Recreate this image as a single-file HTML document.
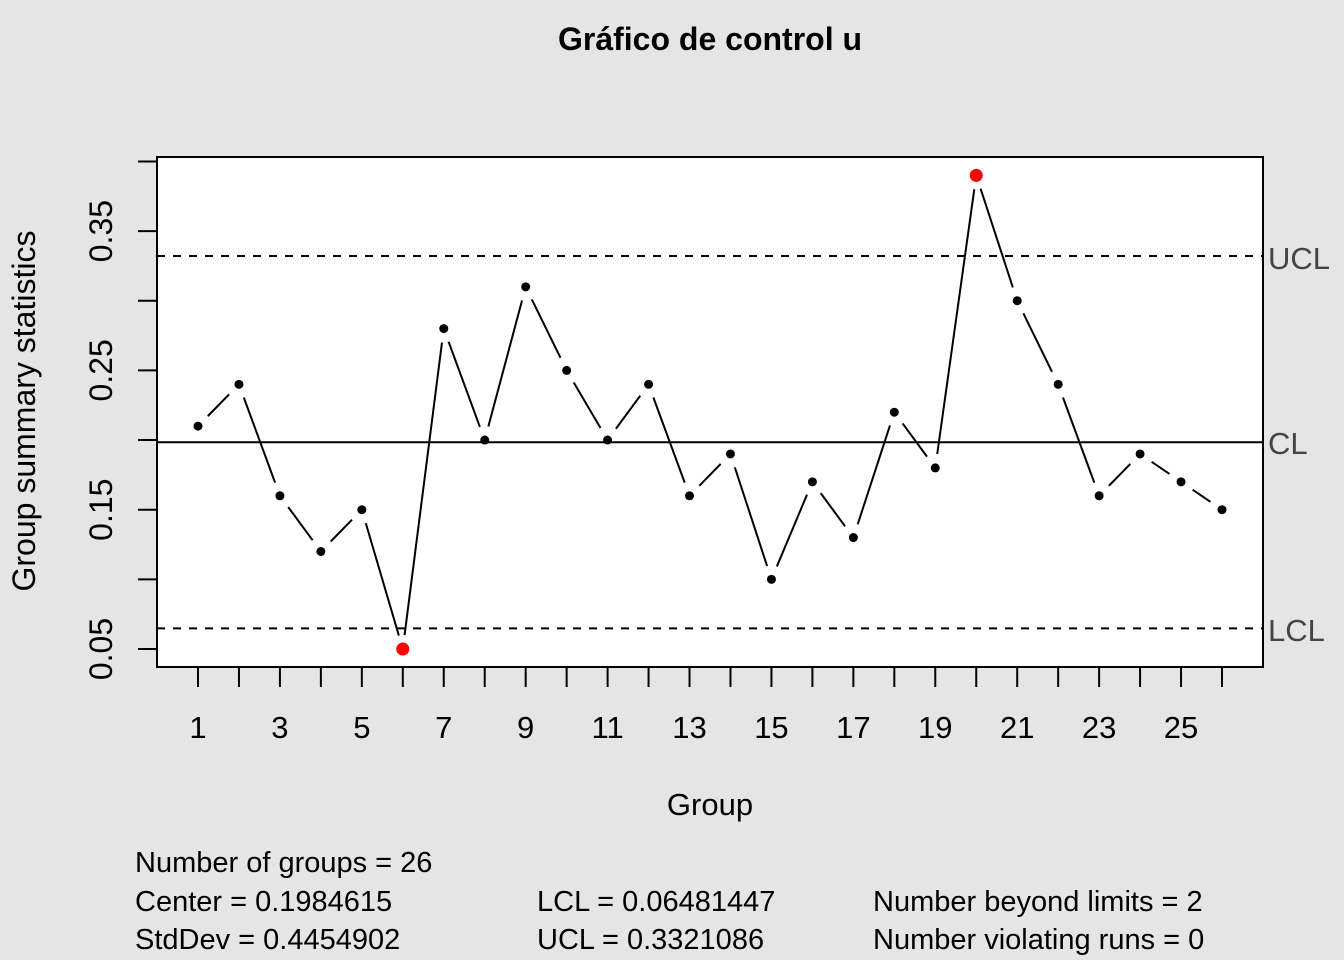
<!DOCTYPE html>
<html><head><meta charset="utf-8"><style>
html,body{margin:0;padding:0;background:#e5e5e5;}
svg{display:block;font-family:"Liberation Sans",Arial,sans-serif;}
</style></head><body>
<svg id="s" width="1344" height="960" viewBox="0 0 1344 960">
<rect width="1344" height="960" fill="#e5e5e5"/>
<rect x="157" y="157" width="1106" height="510" fill="#fff" stroke="#000" stroke-width="2"/>
<text x="710" y="50" text-anchor="middle" font-size="32" font-weight="bold">Gráfico de control u</text>
<text x="710" y="815" text-anchor="middle" font-size="31">Group</text>
<text transform="translate(35,411) rotate(-90)" text-anchor="middle" font-size="32">Group summary statistics</text>
<g font-size="29" fill="#000">
<text x="135" y="872">Number of groups = 26</text>
<text x="135" y="911">Center = 0.1984615</text>
<text x="135" y="949">StdDev = 0.4454902</text>
<text x="537" y="911">LCL = 0.06481447</text>
<text x="537" y="949">UCL = 0.3321086</text>
<text x="873" y="911">Number beyond limits = 2</text>
<text x="873" y="949">Number violating runs = 0</text>
</g>
<g font-size="31" fill="#444">
<text x="1268" y="269">UCL</text>
<text x="1268" y="454">CL</text>
<text x="1268" y="641">LCL</text>
</g>
<g id="g"></g>
</svg>
<script>
var g=document.getElementById('g'),h='';
function Y(v){return 649-(v-0.05)*1393;}
function X(i){return 198+(i-1)*40.96;}
for(var k=0;k<8;k++){var v=0.05+k*0.05,y=Y(v);h+='<line x1="138" y1="'+y+'" x2="157" y2="'+y+'" stroke="#000" stroke-width="2"/>';}
['0.05','0.15','0.25','0.35'].forEach(function(t){var y=Y(+t);h+='<text transform="translate(112,'+y+') rotate(-90)" text-anchor="middle" font-size="32">'+t+'</text>';});
for(var i=1;i<=26;i++){var x=X(i);h+='<line x1="'+x+'" y1="667" x2="'+x+'" y2="687" stroke="#000" stroke-width="2"/>';if(i%2)h+='<text x="'+x+'" y="738" text-anchor="middle" font-size="31">'+i+'</text>';}
h+='<line x1="157" y1="'+Y(0.3321086)+'" x2="1263" y2="'+Y(0.3321086)+'" stroke="#000" stroke-width="2" stroke-dasharray="8,8"/>';
h+='<line x1="157" y1="'+Y(0.06481447)+'" x2="1263" y2="'+Y(0.06481447)+'" stroke="#000" stroke-width="2" stroke-dasharray="8,8"/>';
h+='<line x1="157" y1="'+Y(0.1984615)+'" x2="1263" y2="'+Y(0.1984615)+'" stroke="#000" stroke-width="2"/>';
var d=[.21,.24,.16,.12,.15,.05,.28,.20,.31,.25,.20,.24,.16,.19,.10,.17,.13,.22,.18,.39,.30,.24,.16,.19,.17,.15];
for(var i=0;i<25;i++){var x1=X(i+1),y1=Y(d[i]),x2=X(i+2),y2=Y(d[i+1]);var dx=x2-x1,dy=y2-y1,L=Math.sqrt(dx*dx+dy*dy),gp=14;if(L>2*gp){var ux=dx/L,uy=dy/L;h+='<line x1="'+(x1+ux*gp)+'" y1="'+(y1+uy*gp)+'" x2="'+(x2-ux*gp)+'" y2="'+(y2-uy*gp)+'" stroke="#000" stroke-width="2"/>';}}
for(var i=0;i<26;i++){var red=(d[i]>0.3321||d[i]<0.0648);h+='<circle cx="'+X(i+1)+'" cy="'+Y(d[i])+'" r="'+(red?6.5:4.5)+'" fill="'+(red?'#ff0000':'#000')+'"/>';}
g.innerHTML=h;
</script>
</body></html>
